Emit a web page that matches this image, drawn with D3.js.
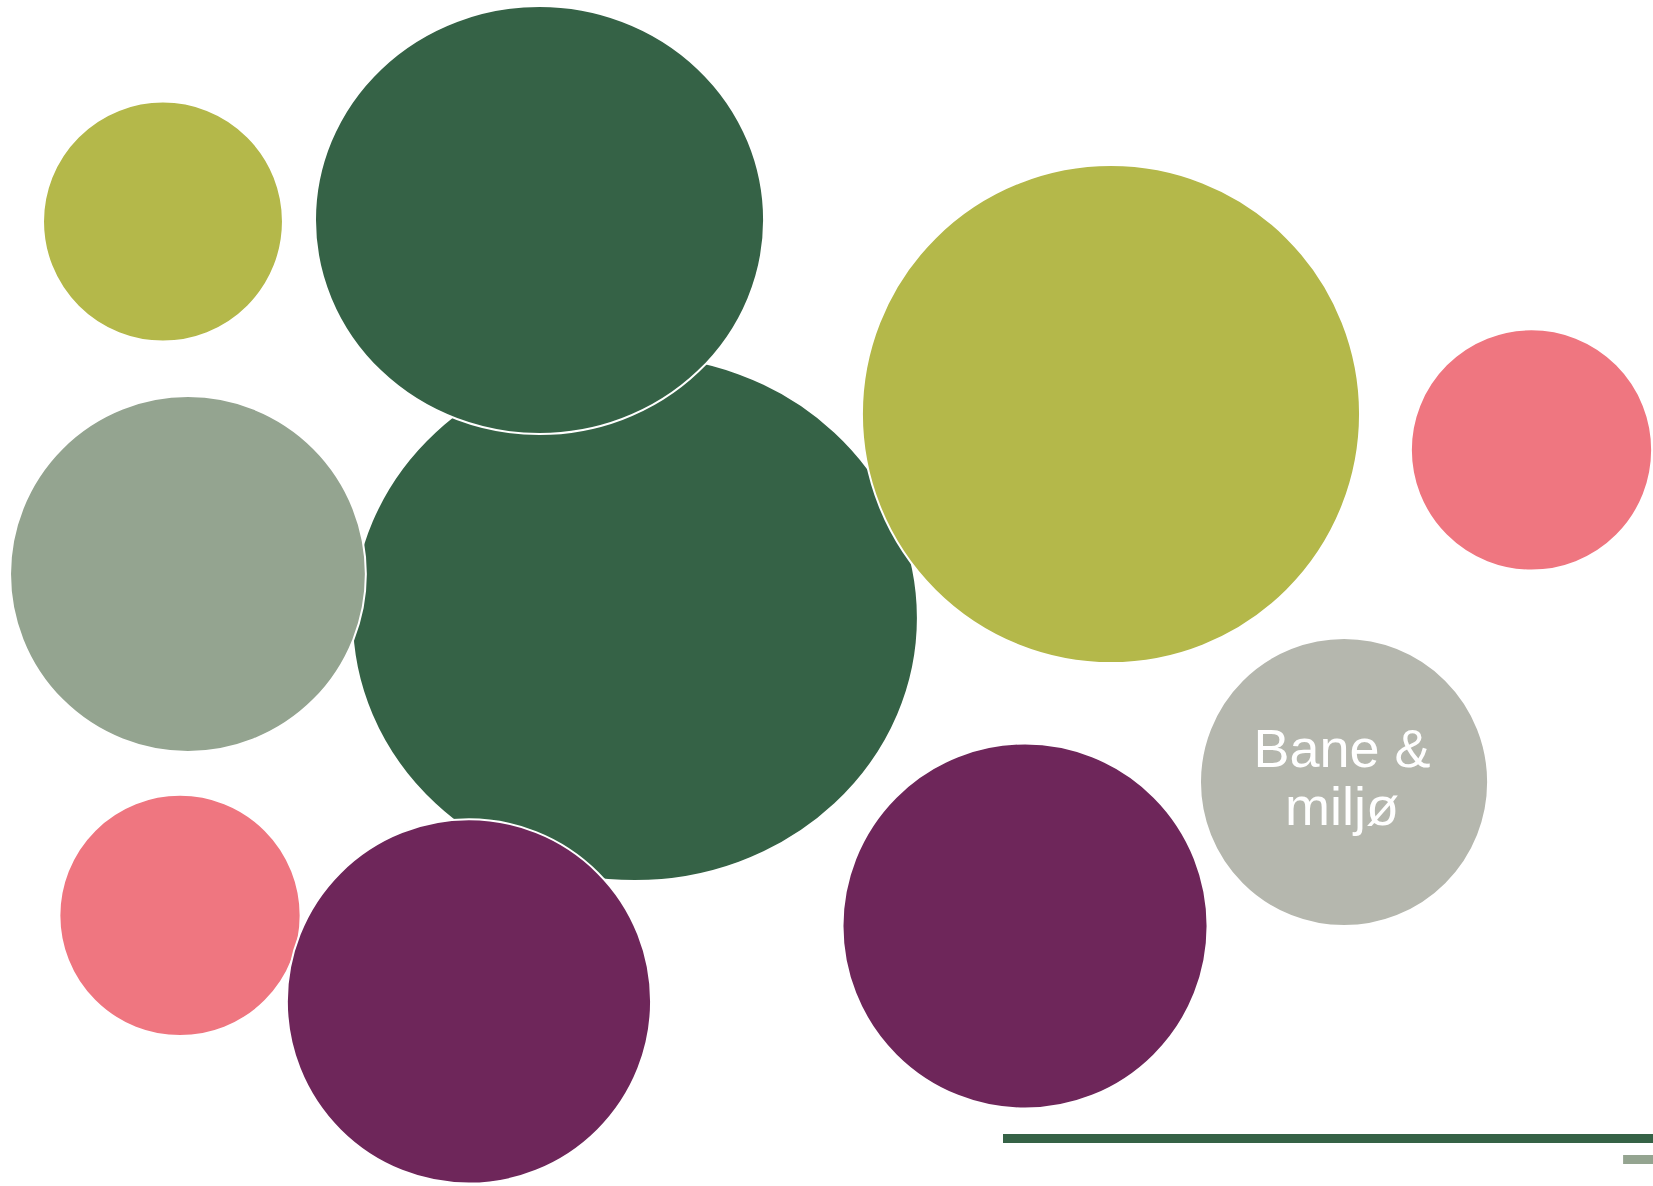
<!DOCTYPE html>
<html>
<head>
<meta charset="utf-8">
<script src="https://cdn.jsdelivr.net/npm/d3@7"></script>
<style>
  html, body { margin: 0; padding: 0; background: #ffffff; overflow: hidden; }
  svg { display: block; }
</style>
</head>
<body>
<div id="chart"></div>
<script>
// ---- Data ----
// Bubble categories (only one carries a visible label)
const categories = ["g1", "g2", "o1", "s1", "o2", "p1", "p2", "v1", "v2", "bane"];
const labels     = ["", "", "", "", "", "", "", "", "", "Bane & miljø"];
// Bubble centres in percent of chart width / height
const xValues = [38.41, 32.64, 9.86, 11.37, 67.21, 92.65, 10.89, 28.37, 62.01, 81.31];
const yValues = [52.11, 18.55, 18.68, 48.40, 34.91, 37.94, 77.19, 84.44, 78.08, 65.94];
// Bubble size values (area-like), horizontal and vertical extent
const sizeX = [100.7, 63.4, 18.1, 39.8, 78.0, 18.3, 18.3, 41.7, 41.9, 26.1];
const sizeY = [87.0, 57.6, 18.1, 39.8, 78.0, 18.3, 18.3, 41.7, 41.9, 26.1];
const colorKeys = ["dark", "dark", "olive", "sage", "olive", "pink", "pink", "plum", "plum", "grey"];

// Bottom-right bars (clipped at right edge)
const barNames  = ["bar1", "bar2"];
const barValues = [100, 4.6];
const barColors = ["dark", "sage"];

const palette = {
  dark: "#356246",
  olive: "#b4b84a",
  sage: "#94a490",
  pink: "#ef7680",
  plum: "#6e265a",
  grey: "#b5b7ae"
};

// ---- Layout ----
const W = 1653, H = 1186;
const svg = d3.select("#chart").append("svg")
  .attr("width", W).attr("height", H);

const x = d3.scaleLinear().domain([0, 100]).range([0, W]);
const y = d3.scaleLinear().domain([0, 100]).range([0, H]);
const r = d3.scaleSqrt().domain([0, 100]).range([0, 282]);

const bubbles = categories.map((c, i) => ({
  id: c, label: labels[i], cx: xValues[i], cy: yValues[i],
  sx: sizeX[i], sy: sizeY[i], color: palette[colorKeys[i]]
}));

const g = svg.append("g");
g.selectAll("ellipse")
  .data(bubbles)
  .join("ellipse")
  .attr("cx", d => x(d.cx))
  .attr("cy", d => y(d.cy))
  .attr("rx", d => r(d.sx))
  .attr("ry", d => r(d.sy))
  .attr("fill", d => d.color)
  .attr("stroke", "#ffffff")
  .attr("stroke-width", 2);

// Labels
const lab = g.selectAll("text.lbl")
  .data(bubbles.filter(d => d.label))
  .join("text")
  .attr("class", "lbl")
  .attr("x", d => x(d.cx) - 2)
  .attr("y", d => y(d.cy))
  .attr("text-anchor", "middle")
  .attr("fill", "#ffffff")
  .style("font-family", "'Liberation Sans', Arial, sans-serif")
  .style("font-size", "54px");

lab.each(function(d) {
  const parts = d.label.replace("& ", "&\n").split("\n");
  const t = d3.select(this);
  parts.forEach((p, k) => {
    t.append("tspan")
      .attr("x", x(d.cx) - 2)
      .attr("y", y(d.cy) + (k === 0 ? -15 : 43))
      .text(p);
  });
});

// Bars
const barX = d3.scaleLinear().domain([0, 100]).range([W, 1003]);
const barY = d3.scaleBand().domain(barNames).range([1134, 1164]).paddingInner(12 / 21).paddingOuter(0);

svg.append("g").selectAll("rect")
  .data(barNames.map((n, i) => ({ n, v: barValues[i], c: palette[barColors[i]] })))
  .join("rect")
  .attr("x", d => barX(d.v))
  .attr("y", d => barY(d.n))
  .attr("width", d => W - barX(d.v))
  .attr("height", barY.bandwidth())
  .attr("fill", d => d.c);
</script>
</body>
</html>
